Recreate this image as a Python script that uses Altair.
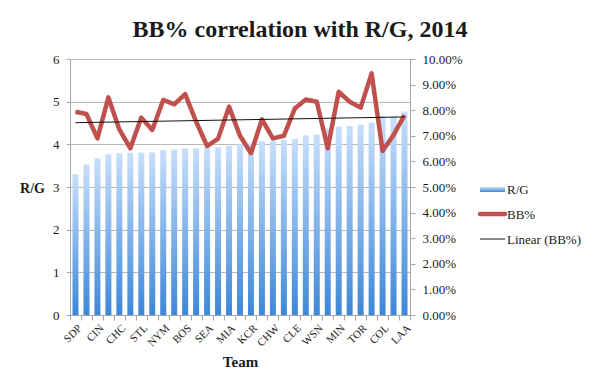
import json
import altair as alt
import pandas as pd
import numpy as np

teams = ["SDP", "ATL", "CIN", "TBR", "CHC", "PHI", "STL", "ARI", "NYM", "HOU",
         "BOS", "NYY", "SEA", "TEX", "MIA", "MIL", "KCR", "SFG", "CHW", "PIT",
         "CLE", "BAL", "WSN", "OAK", "MIN", "LAD", "TOR", "DET", "COL", "MLB",
         "LAA"]
runs_per_game = [3.30, 3.53, 3.67, 3.77, 3.79, 3.80, 3.81, 3.81, 3.87, 3.88,
                 3.91, 3.91, 3.92, 3.93, 3.96, 4.00, 4.02, 4.07, 4.08, 4.11,
                 4.13, 4.21, 4.23, 4.37, 4.41, 4.43, 4.46, 4.51, 4.66, 4.66,
                 4.77]
bb_pct = [0.0794, 0.0785, 0.0690, 0.0850, 0.0725, 0.0651, 0.0771, 0.0723, 0.0840, 0.0823,
          0.0863, 0.0755, 0.0660, 0.0689, 0.0814, 0.0700, 0.0632, 0.0764, 0.0690, 0.0700,
          0.0807, 0.0842, 0.0833, 0.0651, 0.0872, 0.0833, 0.0810, 0.0944, 0.0641, 0.0703,
          0.0781]
shown_labels = teams[::2]
left_ticks = [0, 1, 2, 3, 4, 5, 6]
right_ticks = [0.0, 0.01, 0.02, 0.03, 0.04, 0.05, 0.06, 0.07, 0.08, 0.09, 0.10]

df = pd.DataFrame({"Team": teams, "RG": runs_per_game, "BB": bb_pct})

# Linear trend of BB% over the category index (as Excel's "Linear" trendline)
idx = np.arange(1, len(teams) + 1)
slope, intercept = np.polyfit(idx, np.array(bb_pct), 1)
trend_df = pd.DataFrame({"Team": [teams[0], teams[-1]],
                         "trend": [intercept + slope * idx[0], intercept + slope * idx[-1]]})

FONT = "Liberation Serif"
GRID = "#b8b8b8"
AXIS = "#a8a8a8"
TEXT = "#1a1a1a"

bar_grad = alt.LinearGradient(
    gradient="linear",
    stops=[alt.GradientStop(color="#c8dffb", offset=0),
           alt.GradientStop(color="#3d87d8", offset=1)],
    x1=0, x2=0, y1=0, y2=1)

label_expr = "indexof(" + json.dumps(shown_labels) + ", datum.value) >= 0 ? datum.label : ''"

x_enc = alt.X("Team:N", sort=None, title="Team",
              scale=alt.Scale(paddingInner=0, paddingOuter=0),
              axis=alt.Axis(labelExpr=label_expr, labelAngle=-45, labelFont=FONT,
                            labelFontSize=11, labelColor=TEXT, labelAlign="right",
                            labelBaseline="top", labelPadding=2,
                            tickBand="extent", tickSize=5, tickColor=AXIS,
                            domainColor=AXIS, grid=False,
                            titleFont=FONT, titleFontSize=15, titleFontWeight="bold",
                            titleColor=TEXT, titleY=46, titleBaseline="middle"))

bars = alt.Chart(df).mark_bar(size=6, color=bar_grad).encode(
    x=x_enc,
    y=alt.Y("RG:Q", title="R/G", scale=alt.Scale(domain=[0, 6], nice=False),
            axis=alt.Axis(values=left_ticks, grid=True, gridColor=GRID, domainColor=AXIS,
                          tickColor=AXIS, tickSize=4, labelPadding=7, labelFont=FONT,
                          labelFontSize=13, labelColor=TEXT, titleAngle=0,
                          titleX=-38, titleY=129, titleAlign="center",
                          titleBaseline="middle", titleFont=FONT, titleFontSize=14,
                          titleFontWeight="bold", titleColor=TEXT))
)

line = alt.Chart(df).mark_line(color="#c0504d", strokeWidth=4.5, strokeJoin="round").encode(
    x=alt.X("Team:N", sort=None),
    y=alt.Y("BB:Q", scale=alt.Scale(domain=[0, 0.1], nice=False),
            axis=alt.Axis(orient="right", values=right_ticks, format=".2%", grid=False,
                          domainColor=AXIS, tickColor=AXIS, tickSize=5, labelPadding=7,
                          labelFont=FONT, labelFontSize=13, labelColor=TEXT, title=None))
)

trend = alt.Chart(trend_df).mark_line(color="#111111", strokeWidth=1).encode(
    x=alt.X("Team:N", sort=None),
    y=alt.Y("trend:Q", scale=alt.Scale(domain=[0, 0.1], nice=False), axis=None)
)

legend_labels = ["R/G", "BB%", "Linear (BB%)"]
one = pd.DataFrame({"k": [0]})

leg_bar = alt.Chart(one).mark_rect(color=bar_grad).encode(
    x=alt.value(410), x2=alt.value(435), y=alt.value(128), y2=alt.value(133))
leg_line = alt.Chart(one).mark_rule(color="#c0504d", strokeWidth=4.5, strokeCap="round").encode(
    x=alt.value(410), x2=alt.value(435), y=alt.value(155))
leg_trend = alt.Chart(one).mark_rule(color="#111111", strokeWidth=1).encode(
    x=alt.value(410), x2=alt.value(435), y=alt.value(180))

leg_texts = []
for lab, yy in zip(legend_labels, [131, 156, 181]):
    leg_texts.append(
        alt.Chart(pd.DataFrame({"label": [lab]})).mark_text(
            align="left", baseline="middle", font=FONT, fontSize=13, color=TEXT
        ).encode(x=alt.value(437), y=alt.value(yy), text="label:N")
    )

chart = alt.layer(bars, line, trend, leg_bar, leg_line, leg_trend, *leg_texts).resolve_scale(
    y="independent"
).properties(
    width=340, height=256,
    autosize=alt.AutoSizeParams(type="none"),
    padding={"left": 62, "top": 51, "right": 182, "bottom": 63},
    title=alt.TitleParams("BB% correlation with R/G, 2014", font=FONT, fontSize=24,
                          fontWeight="bold", color=TEXT, anchor="middle", dx=60,
                          frame="group", offset=11),
).configure_view(stroke=None)

chart.save("out.html", embed_options={"renderer": "svg", "actions": False})
